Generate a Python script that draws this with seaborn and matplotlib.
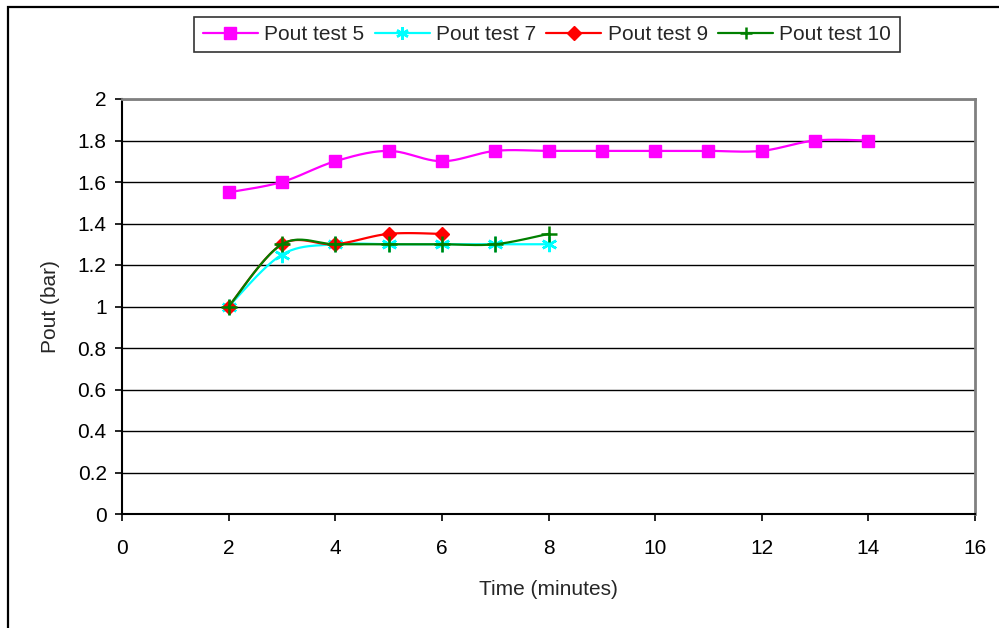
import numpy as np
import pandas as pd
import matplotlib
matplotlib.use("Agg")
import matplotlib.pyplot as plt
from matplotlib.lines import Line2D
from matplotlib.patches import Rectangle
import seaborn as sns

# ---- data ----
x5 = [2, 3, 4, 5, 6, 7, 8, 9, 10, 11, 12, 13, 14]
y5 = [1.55, 1.6, 1.7, 1.75, 1.7, 1.75, 1.75, 1.75, 1.75, 1.75, 1.75, 1.8, 1.8]
x7 = [2, 3, 4, 5, 6, 7, 8]
y7 = [1.0, 1.25, 1.3, 1.3, 1.3, 1.3, 1.3]
x9 = [2, 3, 4, 5, 6]
y9 = [1.0, 1.3, 1.3, 1.35, 1.35]
x10 = [2, 3, 4, 5, 6, 7, 8]
y10 = [1.0, 1.3, 1.3, 1.3, 1.3, 1.3, 1.35]
labels = ["Pout test 5", "Pout test 7", "Pout test 9", "Pout test 10"]
xticks = [0, 2, 4, 6, 8, 10, 12, 14, 16]
yticks = [0, 0.2, 0.4, 0.6, 0.8, 1, 1.2, 1.4, 1.6, 1.8, 2]
ytick_labels = ["0", "0.2", "0.4", "0.6", "0.8", "1", "1.2", "1.4", "1.6", "1.8", "2"]

series = [(x5, y5), (x7, y7), (x9, y9), (x10, y10)]
colors = ["#FF00FF", "#00FFFF", "#FF0000", "#008000"]
markers = ["s", (6, 2, 0), "D", "+"]
msizes = [8.5, 11, 7.5, 11]
FS = 15


def smooth(xs, ys, n=24):
    """Excel-like smoothed line (Catmull-Rom Bezier) through the data points."""
    p = np.column_stack([xs, ys]).astype(float)
    out = []
    for i in range(len(p) - 1):
        p0 = p[i - 1] if i > 0 else p[i]
        p1, p2 = p[i], p[i + 1]
        p3 = p[i + 2] if i + 2 < len(p) else p[i + 1]
        c1 = p1 + (p2 - p0) / 6.0
        c2 = p2 - (p3 - p1) / 6.0
        t = np.linspace(0, 1, n, endpoint=(i == len(p) - 2))[:, None]
        b = ((1 - t) ** 3) * p1 + 3 * ((1 - t) ** 2) * t * c1 + 3 * (1 - t) * t ** 2 * c2 + t ** 3 * p2
        out.append(b)
    out = np.vstack(out)
    return out[:, 0], out[:, 1]


def marker_kw(c, m, ms):
    if m in ((6, 2, 0), "+"):
        return dict(marker=m, markersize=ms, markeredgecolor=c, markeredgewidth=1.8)
    return dict(marker=m, markersize=ms, markerfacecolor=c, markeredgecolor=c,
                markeredgewidth=1.0)


sns.set_style("white")
plt.rcParams["font.family"] = ["Liberation Sans", "DejaVu Sans"]

fig = plt.figure(figsize=(9.99, 6.28), dpi=100)
ax = fig.add_axes([122 / 999, 1 - 514 / 628, (975 - 122) / 999, (514 - 99) / 628])

for (xs, ys), c, m, ms, lab in zip(series, colors, markers, msizes, labels):
    sx, sy = smooth(xs, ys)
    df = pd.DataFrame({"x": sx, "y": sy})
    sns.lineplot(data=df, x="x", y="y", ax=ax, color=c, linewidth=1.6, sort=False,
                 estimator=None, legend=False)
    dm = pd.DataFrame({"x": xs, "y": ys})
    ax.plot(dm["x"], dm["y"], linestyle="none", color=c, **marker_kw(c, m, ms))

ax.set_xlim(0, 16)
ax.set_ylim(0, 2)
ax.set_xticks(xticks)
ax.set_xticklabels([str(v) for v in xticks])
ax.set_yticks(yticks)
ax.set_yticklabels(ytick_labels)
ax.yaxis.grid(True, color="black", linewidth=1.0)
ax.xaxis.grid(False)
ax.set_axisbelow(True)
for s in ["left", "bottom"]:
    ax.spines[s].set_color("black")
    ax.spines[s].set_linewidth(1.5)
for s in ["top", "right"]:
    ax.spines[s].set_color("#808080")
    ax.spines[s].set_linewidth(2.0)
ax.tick_params(axis="both", direction="out", length=5, width=1.2, color="black",
               labelsize=FS, labelcolor="black")
ax.tick_params(axis="x", bottom=True, pad=13)
ax.tick_params(axis="y", left=True, pad=6)
ax.set_xlabel("Time (minutes)", fontsize=FS, labelpad=16)
ax.set_ylabel("Pout (bar)", fontsize=FS, labelpad=13)

handles = [Line2D([0], [0], color=c, linewidth=1.6, **marker_kw(c, m, min(ms, 9)))
           for c, m, ms in zip(colors, markers, msizes)]
leg = fig.legend(handles, labels, loc="center", bbox_to_anchor=(547 / 999, 1 - 34.5 / 628),
                 ncol=4, frameon=True, fancybox=False, edgecolor="black", fontsize=FS,
                 handlelength=2.64, handletextpad=0.3, columnspacing=0.5,
                 borderpad=0.4, borderaxespad=0)
leg.get_frame().set_linewidth(1.2)

border = Rectangle((8 / 999, -0.1), 1.2, 1.1 - 7 / 628, transform=fig.transFigure,
                   fill=False, edgecolor="black", linewidth=1.6, clip_on=False)
fig.patches.append(border)

fig.savefig("out.png", dpi=100)
